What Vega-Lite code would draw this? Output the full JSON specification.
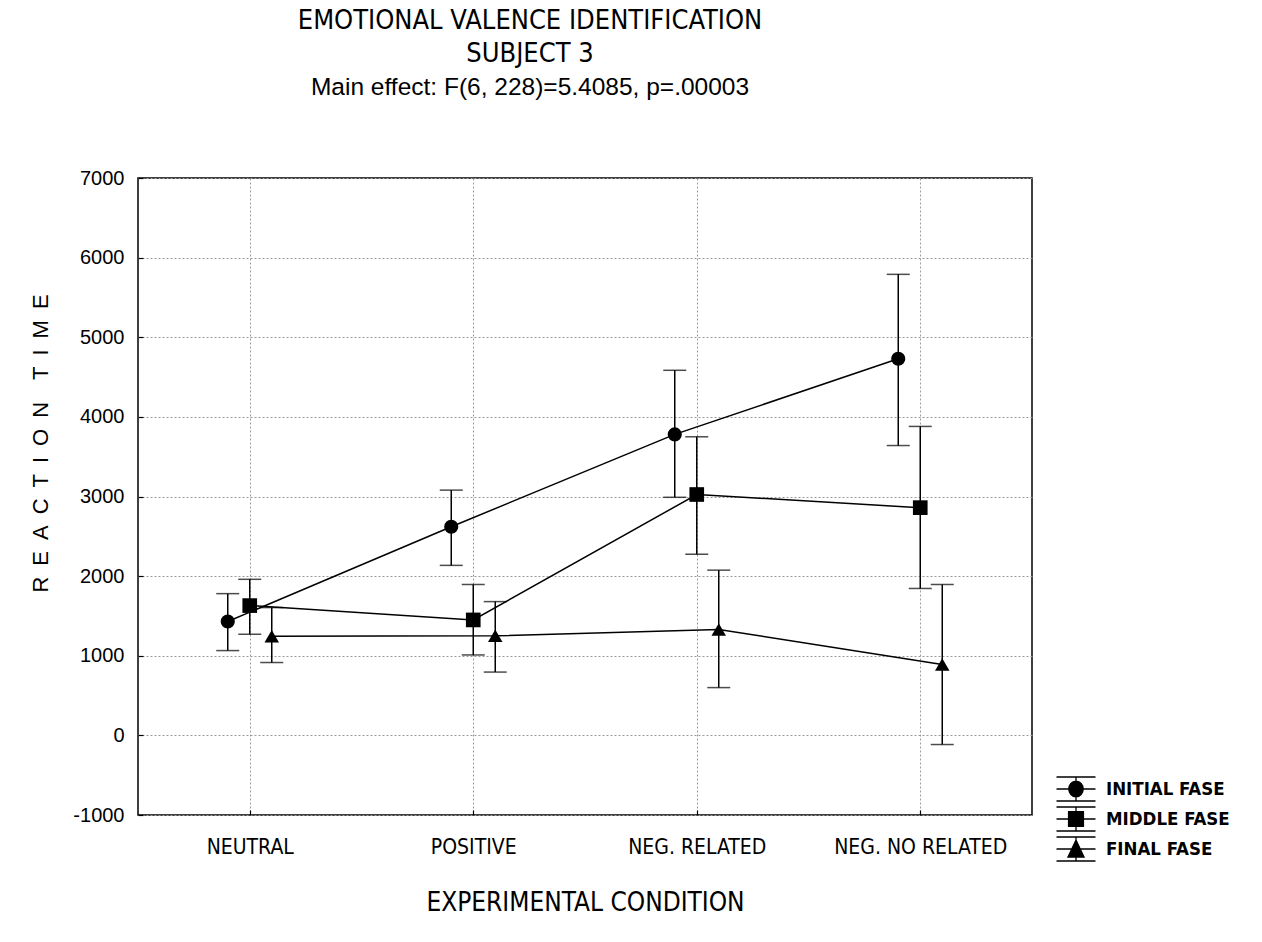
{
  "$schema": "https://vega.github.io/schema/vega-lite/v6.json",
  "width": 894,
  "height": 637,
  "autosize": "none",
  "padding": {"left": 138, "top": 178, "right": 230, "bottom": 127},
  "background": "white",
  "title": {
    "text": ["EMOTIONAL VALENCE IDENTIFICATION", "SUBJECT  3"],
    "subtitle": "Main effect: F(6, 228)=5.4085, p=.00003",
    "anchor": "middle",
    "frame": "group",
    "dx": -55,
    "offset": 68,
    "font": "Liberation Sans Narrow, DejaVu Sans Condensed, sans-serif",
    "fontSize": 27,
    "fontWeight": "normal",
    "lineHeight": 33,
    "color": "black",
    "subtitleFont": "Liberation Sans, Arial, sans-serif",
    "subtitleFontSize": 24.5,
    "subtitleColor": "black",
    "subtitlePadding": 8
  },
  "data": {
    "values": [
      {"condition": "NEUTRAL", "phase": "INITIAL FASE", "mean": 1430, "lo": 1065, "hi": 1780},
      {"condition": "POSITIVE", "phase": "INITIAL FASE", "mean": 2620, "lo": 2135, "hi": 3080},
      {"condition": "NEG. RELATED", "phase": "INITIAL FASE", "mean": 3780, "lo": 2990, "hi": 4585},
      {"condition": "NEG. NO RELATED", "phase": "INITIAL FASE", "mean": 4730, "lo": 3640, "hi": 5790},
      {"condition": "NEUTRAL", "phase": "MIDDLE FASE", "mean": 1630, "lo": 1270, "hi": 1960},
      {"condition": "POSITIVE", "phase": "MIDDLE FASE", "mean": 1450, "lo": 1010, "hi": 1895},
      {"condition": "NEG. RELATED", "phase": "MIDDLE FASE", "mean": 3025, "lo": 2275, "hi": 3750},
      {"condition": "NEG. NO RELATED", "phase": "MIDDLE FASE", "mean": 2860, "lo": 1845, "hi": 3880},
      {"condition": "NEUTRAL", "phase": "FINAL FASE", "mean": 1245, "lo": 915, "hi": 1605},
      {"condition": "POSITIVE", "phase": "FINAL FASE", "mean": 1250, "lo": 795, "hi": 1680},
      {"condition": "NEG. RELATED", "phase": "FINAL FASE", "mean": 1330, "lo": 600, "hi": 2075},
      {"condition": "NEG. NO RELATED", "phase": "FINAL FASE", "mean": 890, "lo": -115, "hi": 1895}
    ]
  },
  "encoding": {
    "x": {
      "field": "condition",
      "type": "nominal",
      "sort": ["NEUTRAL", "POSITIVE", "NEG. RELATED", "NEG. NO RELATED"],
      "scale": {"type": "point", "padding": 0.5},
      "axis": {"title": "EXPERIMENTAL CONDITION", "labelAngle": 0, "labelLimit": 0}
    },
    "xOffset": {
      "field": "phase",
      "type": "nominal",
      "sort": ["INITIAL FASE", "MIDDLE FASE", "FINAL FASE"],
      "scale": {"type": "point", "range": [-33, 33]}
    }
  },
  "layer": [
    {
      "mark": {"type": "rule", "color": "black", "strokeWidth": 1.5},
      "encoding": {
        "y": {
          "field": "lo",
          "type": "quantitative",
          "scale": {"domain": [-1000, 7000], "nice": false, "zero": false},
          "axis": {"title": "R\u2002E\u2002A\u2002C\u2002T\u2002I\u2002O\u2002N\u2002\u2002T\u2002I\u2002M\u2002E", "values": [-1000, 0, 1000, 2000, 3000, 4000, 5000, 6000, 7000], "labelExpr": "'' + datum.value"}
        },
        "y2": {"field": "hi"}
      }
    },
    {
      "mark": {"type": "tick", "color": "black", "thickness": 1.5, "size": 23, "orient": "horizontal"},
      "encoding": {"y": {"field": "lo", "type": "quantitative", "title": "R\u2002E\u2002A\u2002C\u2002T\u2002I\u2002O\u2002N\u2002\u2002T\u2002I\u2002M\u2002E"}}
    },
    {
      "mark": {"type": "tick", "color": "black", "thickness": 1.5, "size": 23, "orient": "horizontal"},
      "encoding": {"y": {"field": "hi", "type": "quantitative", "title": "R\u2002E\u2002A\u2002C\u2002T\u2002I\u2002O\u2002N\u2002\u2002T\u2002I\u2002M\u2002E"}}
    },
    {
      "mark": {"type": "line", "color": "black", "strokeWidth": 1.5},
      "encoding": {
        "y": {"field": "mean", "type": "quantitative", "title": "R\u2002E\u2002A\u2002C\u2002T\u2002I\u2002O\u2002N\u2002\u2002T\u2002I\u2002M\u2002E"},
        "detail": {"field": "phase"},
        "order": {"value": null}
      }
    },
    {
      "transform": [{"filter": "datum.phase === 'INITIAL FASE'"}],
      "mark": {"type": "point", "shape": "circle", "filled": true, "color": "black", "opacity": 1, "size": 200},
      "encoding": {
        "y": {"field": "mean", "type": "quantitative", "title": "R\u2002E\u2002A\u2002C\u2002T\u2002I\u2002O\u2002N\u2002\u2002T\u2002I\u2002M\u2002E"}
      }
    },
    {
      "transform": [{"filter": "datum.phase === 'MIDDLE FASE'"}],
      "mark": {"type": "point", "shape": "square", "filled": true, "color": "black", "opacity": 1, "size": 215},
      "encoding": {
        "y": {"field": "mean", "type": "quantitative", "title": "R\u2002E\u2002A\u2002C\u2002T\u2002I\u2002O\u2002N\u2002\u2002T\u2002I\u2002M\u2002E"}
      }
    },
    {
      "transform": [{"filter": "datum.phase === 'FINAL FASE'"}],
      "mark": {"type": "point", "shape": "triangle-up", "filled": true, "color": "black", "opacity": 1, "size": 210},
      "encoding": {
        "y": {"field": "mean", "type": "quantitative", "title": "R\u2002E\u2002A\u2002C\u2002T\u2002I\u2002O\u2002N\u2002\u2002T\u2002I\u2002M\u2002E"}
      }
    },
    {
      "mark": {"type": "point", "filled": true, "opacity": 0, "size": 576},
      "encoding": {
        "y": {"field": "mean", "type": "quantitative", "title": "R\u2002E\u2002A\u2002C\u2002T\u2002I\u2002O\u2002N\u2002\u2002T\u2002I\u2002M\u2002E"},
        "color": {
          "field": "phase",
          "type": "nominal",
          "sort": ["INITIAL FASE", "MIDDLE FASE", "FINAL FASE"],
          "scale": {"range": ["black", "black", "black"]},
          "legend": {
            "title": null,
            "orient": "none",
            "legendX": 925,
            "legendY": 598,
            "symbolSize": 576,
            "symbolOpacity": 1,
            "symbolStrokeWidth": 1.3,
            "labelFont": "Liberation Sans Narrow, DejaVu Sans Condensed, sans-serif",
            "labelFontWeight": "bold",
            "labelFontSize": 18.5,
            "labelColor": "black",
            "labelOffset": 17,
            "rowPadding": 0,
            "padding": 0,
            "encode": {
              "symbols": {
                "update": {
                  "shape": {"signal": "datum.value === 'INITIAL FASE' ? 'M-1.625,-1H1.625M-1.625,0H1.625M-1.625,1H1.625M0,-1V1M-0.6,0A0.6,0.66,0,1,0,0.6,0A0.6,0.66,0,1,0,-0.6,0Z' : datum.value === 'MIDDLE FASE' ? 'M-1.625,-1H1.625M-1.625,0H1.625M-1.625,1H1.625M0,-1V1M-0.62,-0.62H0.62V0.62H-0.62Z' : 'M-1.625,-1H1.625M-1.625,0H1.625M-1.625,1H1.625M0,-1V1M0,-0.75L0.67,0.67H-0.67Z'"},
                  "size": {"value": 576},
                  "fill": {"value": "black"},
                  "stroke": {"value": "black"},
                  "strokeWidth": {"value": 1.3},
                  "opacity": {"value": 1},
                  "fillOpacity": {"value": 1},
                  "strokeOpacity": {"value": 1}
                }
              }
            }
          }
        }
      }
    }
  ],
  "config": {
    "view": {"stroke": "black", "strokeWidth": 1.5},
    "axis": {
      "domain": false,
      "grid": true,
      "gridColor": "#9a9a9a",
      "gridDash": [2, 2],
      "gridWidth": 1,
      "ticks": true,
      "tickColor": "black",
      "tickSize": -5,
      "tickWidth": 1.2,
      "labelColor": "black",
      "titleColor": "black",
      "titleFontWeight": "normal"
    },
    "axisX": {
      "labelFont": "Liberation Sans Narrow, DejaVu Sans Condensed, sans-serif",
      "labelFontSize": 21,
      "labelBaseline": "alphabetic",
      "labelPadding": 43,
      "titleFont": "Liberation Sans Narrow, DejaVu Sans Condensed, sans-serif",
      "titleFontSize": 26,
      "titleBaseline": "alphabetic",
      "titleY": 95
    },
    "axisY": {
      "labelFont": "Liberation Sans, Arial, sans-serif",
      "labelFontSize": 20,
      "labelPadding": 19,
      "titleFont": "Liberation Sans, Arial, sans-serif",
      "titleFontSize": 22,
      "titleAngle": -90,
      "titleX": -98,
      "titleY": 265,
      "titleAlign": "center",
      "titleBaseline": "middle"
    }
  }
}
